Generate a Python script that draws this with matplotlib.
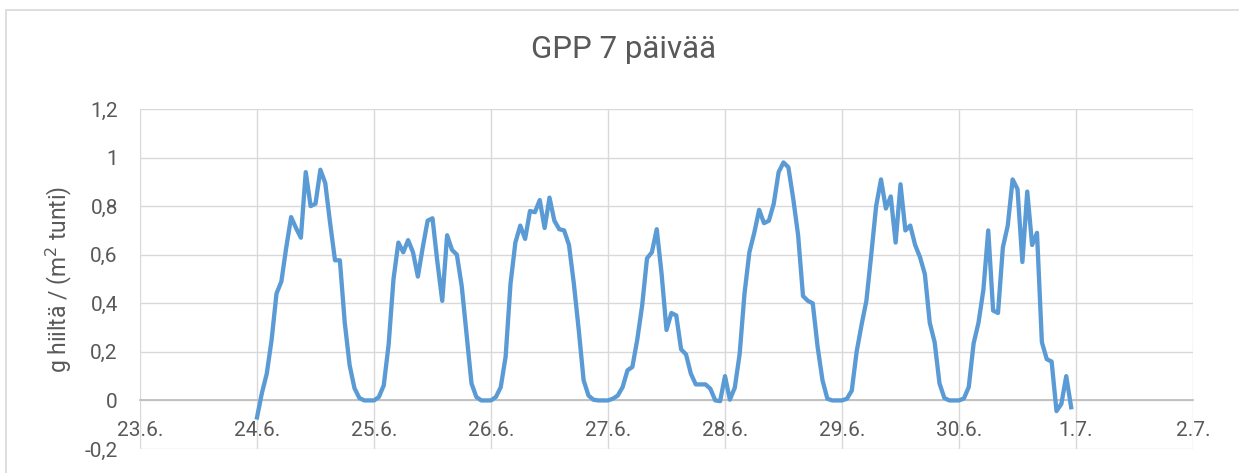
import numpy as np
import matplotlib
matplotlib.use('Agg')
import matplotlib.pyplot as plt
from matplotlib.patches import Rectangle

plt.rcParams['font.family'] = ['Roboto', 'DejaVu Sans']

TITLE = 'GPP 7 päivää'
Y_LABEL = 'g hiiltä / (m$^2$ tunti)'
START = np.datetime64('2019-06-24T00:00')

# hourly GPP values, one list per day (24.6. ... 30.6.)
day_24 = [-0.07, 0.03, 0.11, 0.25, 0.44, 0.49, 0.63, 0.755, 0.71, 0.67, 0.94, 0.80,
          0.81, 0.95, 0.895, 0.73, 0.577, 0.577, 0.32, 0.145, 0.05, 0.01, 0.0, 0.0]
day_25 = [0.0, 0.014, 0.062, 0.23, 0.50, 0.65, 0.61, 0.66, 0.61, 0.51, 0.63, 0.74,
          0.75, 0.57, 0.41, 0.68, 0.62, 0.60, 0.47, 0.27, 0.07, 0.014, 0.0, 0.0]
day_26 = [0.0, 0.014, 0.055, 0.18, 0.48, 0.65, 0.72, 0.665, 0.78, 0.775, 0.825, 0.71,
          0.835, 0.74, 0.705, 0.70, 0.64, 0.48, 0.29, 0.083, 0.02, 0.003, 0.0, 0.0]
day_27 = [0.0, 0.007, 0.02, 0.055, 0.124, 0.138, 0.25, 0.39, 0.585, 0.61, 0.705, 0.52,
          0.29, 0.36, 0.35, 0.21, 0.19, 0.11, 0.066, 0.066, 0.066, 0.048, 0.0, -0.003]
day_28 = [0.10, 0.003, 0.052, 0.19, 0.44, 0.61, 0.69, 0.785, 0.73, 0.74, 0.81, 0.94,
          0.98, 0.96, 0.83, 0.68, 0.43, 0.41, 0.40, 0.22, 0.083, 0.007, 0.0, 0.0]
day_29 = [0.0, 0.007, 0.04, 0.20, 0.31, 0.41, 0.60, 0.80, 0.91, 0.79, 0.84, 0.65,
          0.89, 0.70, 0.72, 0.64, 0.59, 0.52, 0.32, 0.24, 0.07, 0.01, 0.0, 0.0]
day_30 = [0.0, 0.008, 0.055, 0.235, 0.32, 0.455, 0.70, 0.37, 0.36, 0.63, 0.72, 0.91,
          0.87, 0.57, 0.86, 0.64, 0.69, 0.24, 0.17, 0.16, -0.044, -0.014, 0.10, -0.028]

gpp = day_24 + day_25 + day_26 + day_27 + day_28 + day_29 + day_30
times = START + np.arange(len(gpp)) * np.timedelta64(1, 'h')

x_labels = ['23.6.', '24.6.', '25.6.', '26.6.', '27.6.', '28.6.', '29.6.', '30.6.', '1.7.', '2.7.']
x_ticks = START - np.timedelta64(1, 'D') + np.arange(len(x_labels)) * np.timedelta64(1, 'D')
y_ticks = [-0.2, 0, 0.2, 0.4, 0.6, 0.8, 1.0, 1.2]
y_labels = ['-0,2', '0', '0,2', '0,4', '0,6', '0,8', '1', '1,2']

TEXT = '#595959'
GRID = '#D9D9D9'

fig = plt.figure(figsize=(12.39, 4.73), dpi=100)
W, H = 1239, 473
axs = fig.add_axes([140 / W, 1 - 449 / H, (1193 - 140) / W, (449 - 109) / H])

# outer chart border (only left and top visible)
fig.patches.append(Rectangle((6 / W, -0.1), 1.2, 1 - 10.5 / H + 0.1,
                             transform=fig.transFigure, fill=False,
                             edgecolor=GRID, linewidth=1.2, zorder=0))

axs.plot(times, gpp, color='#5B9BD5', linewidth=3.1, solid_joinstyle='round', zorder=3)

axs.set_xlim(x_ticks[0], x_ticks[-1])
axs.set_ylim(-0.2, 1.2)
axs.set_xticks(x_ticks)
axs.set_xticklabels(x_labels)
axs.set_yticks(y_ticks)
axs.set_yticklabels(y_labels)

for s in ['top', 'right', 'left']:
    axs.spines[s].set_visible(False)
axs.spines['bottom'].set_position(('data', 0))
axs.spines['bottom'].set_color('#BFBFBF')
axs.spines['bottom'].set_linewidth(1.3)
axs.spines['bottom'].set_zorder(2)

axs.grid(color=GRID, linewidth=1.0, zorder=0)
axs.set_axisbelow(True)
axs.tick_params(axis='x', length=0, pad=15, labelsize=15, labelcolor=TEXT)
axs.tick_params(axis='y', length=0, pad=16, labelsize=15, labelcolor=TEXT)

axs.set_ylabel(Y_LABEL, fontsize=16.5, color=TEXT, va='center')
axs.yaxis.set_label_coords((59 - 140) / (1193 - 140), 0.5)
fig.text(0.503, 1 - 49 / H, TITLE, ha='center', va='center', fontsize=22.5, color=TEXT)

fig.savefig('out.png', dpi=100)
